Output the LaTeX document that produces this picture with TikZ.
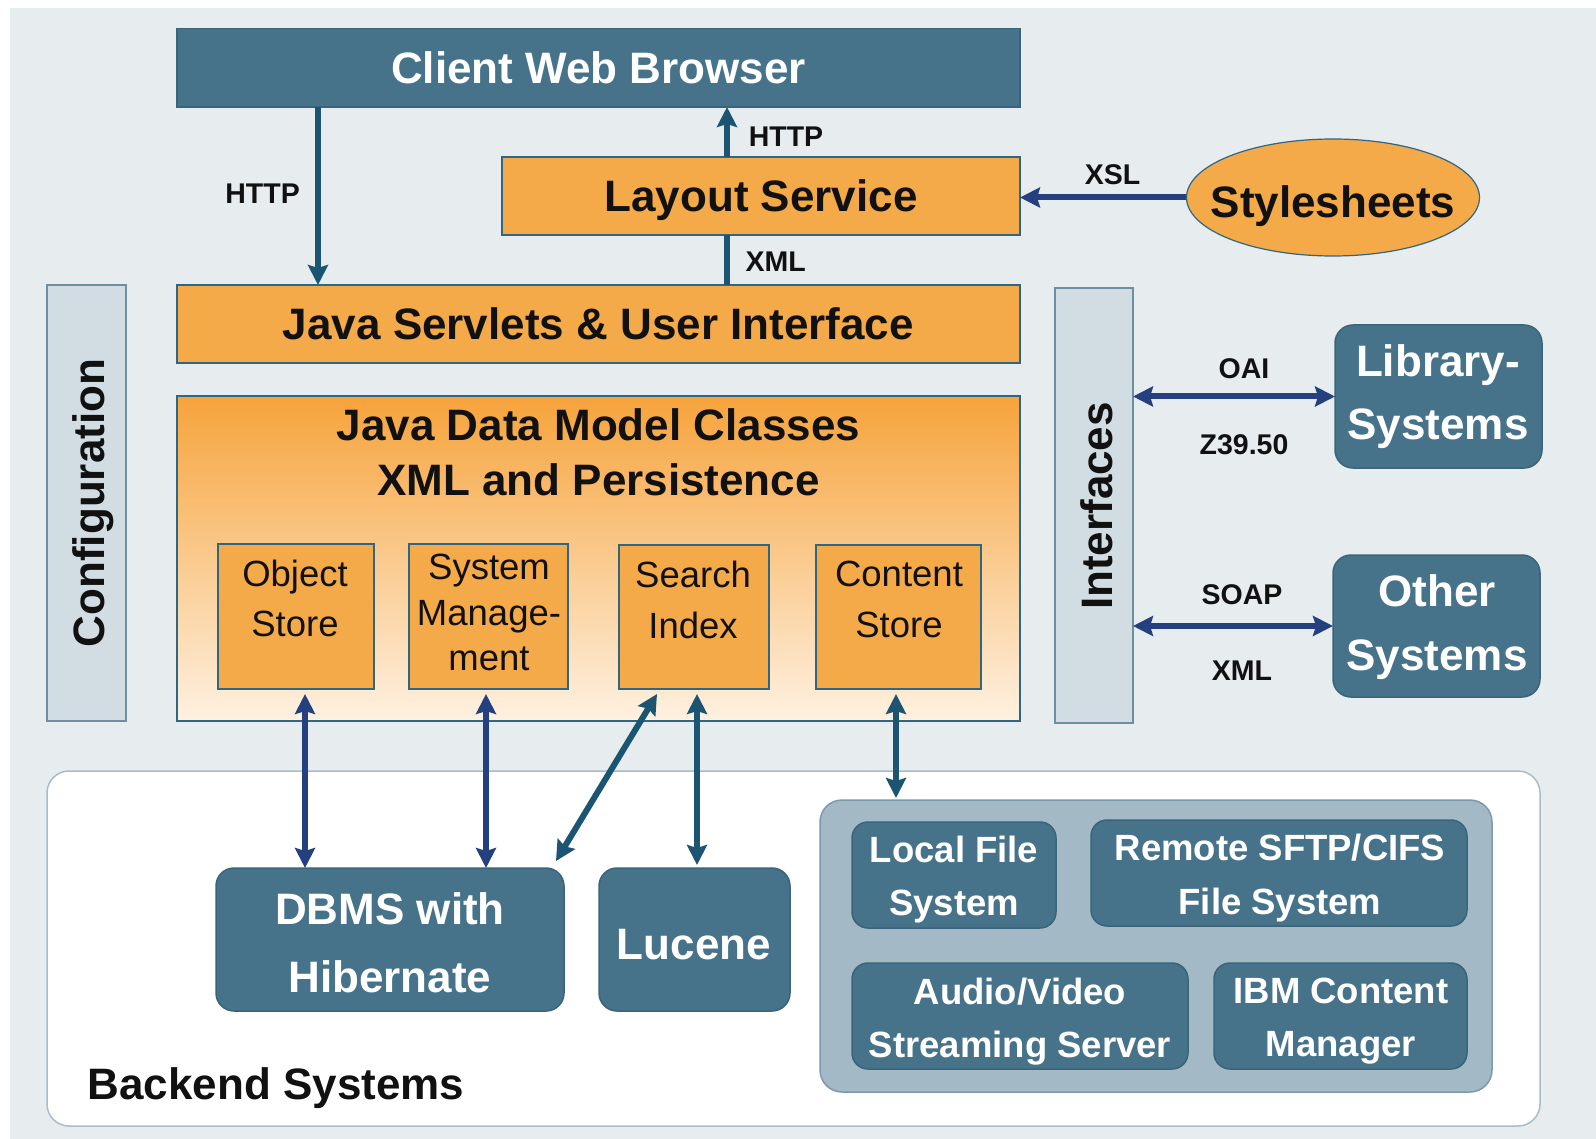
\documentclass[tikz,border=0pt]{standalone}
\usepackage{fontspec}
\setmainfont{Liberation Sans}
\usetikzlibrary{arrows.meta,shapes.geometric}
\definecolor{bg}{HTML}{E7ECEF}
\definecolor{steel}{HTML}{46738A}
\definecolor{steelb}{HTML}{3A6479}
\definecolor{org}{HTML}{F5AA4A}
\definecolor{orgb}{HTML}{2F6683}
\definecolor{cfg}{HTML}{D1DCE3}
\definecolor{cfgb}{HTML}{6C8FA1}
\definecolor{tealc}{HTML}{1B5572}
\definecolor{navy}{HTML}{24407E}
\definecolor{grp}{HTML}{A3B9C5}
\definecolor{grpb}{HTML}{7C9AAA}
\definecolor{bkb}{HTML}{A9BDC8}
\definecolor{gtop}{HTML}{F6A33B}
\definecolor{gbot}{HTML}{FEF1E1}
\definecolor{ink}{HTML}{111111}
\tikzset{
  box/.style={draw, inner sep=0pt, outer sep=0pt},
  capfix/.style={text height=31.5pt, text depth=0pt},
  steelbox/.style={box, fill=steel, draw=steelb, line width=1.5pt, text=white, font=\fontsize{44}{44}\selectfont\bfseries, capfix},
  rsteel/.style={steelbox, rounded corners=18pt},
  orgbox/.style={box, fill=org, draw=orgb, line width=1.2pt, text=ink, font=\fontsize{44}{44}\selectfont\bfseries, capfix},
  sidebox/.style={box, fill=cfg, draw=cfgb, line width=1.5pt},
  big/.style={font=\fontsize{44}{44}\selectfont\bfseries, inner sep=0pt},
  lbl/.style={font=\fontsize{28.5}{28.5}\selectfont\bfseries, text=ink, inner sep=0pt},
  tarr/.style={draw=tealc, line width=6pt, -{Stealth[length=20pt,width=20pt,inset=3pt]}},
  tdarr/.style={draw=tealc, line width=6pt, {Stealth[length=20pt,width=20pt,inset=3pt]}-{Stealth[length=20pt,width=20pt,inset=3pt]}},
  ndarr/.style={draw=navy, line width=6pt, {Stealth[length=20pt,width=20pt,inset=3pt]}-{Stealth[length=20pt,width=20pt,inset=3pt]}},
  narr/.style={draw=navy, line width=6pt, -{Stealth[length=20pt,width=20pt,inset=3pt]}},
  tline/.style={draw=tealc, line width=6pt},
}
\begin{document}
\begin{tikzpicture}[x=1pt,y=-1pt]
\useasboundingbox (0,0) rectangle (1596,1139);
\fill[bg] (10,8) rectangle (1596,1139);

% top
\node[steelbox, minimum width=843pt, minimum height=78.5pt] (cwb) at (598.5,67.75) {Client Web Browser};
\node[orgbox, minimum width=518pt, minimum height=78pt] (ls) at (761,196) {Layout Service};
\node[orgbox, minimum width=843pt, minimum height=78pt] (jsui) at (598.5,324) {Java Servlets \& User Interface};
\node[ellipse, draw=orgb, line width=1.2pt, fill=org, minimum width=293pt, minimum height=117pt, inner sep=0pt] (ss) at (1333,197.5) {};
\node[big, capfix, text=ink] (sst) at (1333,202) {Stylesheets};

% data model
\node[box, draw=orgb, line width=1.2pt, top color=gtop, bottom color=gbot, minimum width=843pt, minimum height=325pt] (jdm) at (598.5,558.5) {};
\node[big, text=ink, align=center, font=\fontsize{44}{55.5}\selectfont\bfseries] (jdmt) at (598.5,452.5) {Java Data Model Classes\\XML and Persistence};

\node[orgbox, minimum width=156pt, minimum height=145pt] (os) at (296,616.5) {};
\node[orgbox, minimum width=159pt, minimum height=145pt] (sm) at (488.5,616.5) {};
\node[orgbox, minimum width=150pt, minimum height=144pt] (si) at (694,617) {};
\node[orgbox, minimum width=165pt, minimum height=144pt] (cs) at (898.5,617) {};
\node[inner sep=0pt, align=center, text=ink, font=\fontsize{36.5}{50}\selectfont] (ost) at (295,598) {Object\\Store};
\node[inner sep=0pt, align=center, text=ink, font=\fontsize{36.5}{45.5}\selectfont] (smt) at (489,612.5) {System\\Manage-\\ment};
\node[inner sep=0pt, align=center, text=ink, font=\fontsize{36.5}{51}\selectfont] (sit) at (693,599.5) {Search\\Index};
\node[inner sep=0pt, align=center, text=ink, font=\fontsize{36.5}{51}\selectfont] (cst) at (899,599.5) {Content\\Store};

% side bars
\node[sidebox, minimum width=79pt, minimum height=436pt] (cfgbox) at (86.5,503) {};
\node[big, rotate=90, text=ink] (cfgt) at (93.5,503) {Configuration};
\node[sidebox, minimum width=78pt, minimum height=435pt] (ifc) at (1094,505.5) {};
\node[big, rotate=90, text=ink] (ifct) at (1097,506) {Interfaces};

% external systems
\node[rsteel, minimum width=207pt, minimum height=143pt] (lib) at (1438.5,396.5) {};
\node[big, text=white, align=center, font=\fontsize{44}{63}\selectfont\bfseries] (libt) at (1438,396.5) {Library-\\Systems};
\node[rsteel, minimum width=207pt, minimum height=142pt] (oth) at (1436.5,626) {};
\node[big, text=white, align=center, font=\fontsize{44}{64}\selectfont\bfseries] (otht) at (1437,627) {Other\\Systems};

% backend
\node[box, fill=white, draw=bkb, line width=1.5pt, rounded corners=22pt, minimum width=1493pt, minimum height=355pt] (bk) at (793.5,948.5) {};
\node[big, text=ink, anchor=west] (bkt) at (87.5,1088) {Backend Systems};
\node[rsteel, minimum width=348pt, minimum height=143pt] (dbms) at (390,939.5) {};
\node[big, text=white, align=center, font=\fontsize{44}{68}\selectfont\bfseries] (dbmst) at (390,943) {DBMS with\\Hibernate};
\node[rsteel, minimum width=191pt, minimum height=143pt] (luc) at (694.5,939.5) {};
\node[big, capfix, text=white] (luct) at (694,944) {Lucene};
\node[box, fill=grp, draw=grpb, line width=1.5pt, rounded corners=22pt, minimum width=672pt, minimum height=292pt] (grpn) at (1156,946) {};
\node[rsteel, rounded corners=16pt, minimum width=204pt, minimum height=106pt] (lfs) at (954,875) {};
\node[rsteel, rounded corners=16pt, minimum width=376pt, minimum height=106pt] (rfs) at (1279,873) {};
\node[rsteel, rounded corners=16pt, minimum width=336pt, minimum height=106pt] (avs) at (1020,1016) {};
\node[rsteel, rounded corners=16pt, minimum width=253pt, minimum height=106pt] (ibm) at (1340.5,1016) {};
\node[inner sep=0pt, align=center, text=white, font=\fontsize{36.5}{53}\selectfont\bfseries] (lfst) at (954,879.5) {Local File\\System};
\node[inner sep=0pt, align=center, text=white, font=\fontsize{36.5}{54}\selectfont\bfseries] (rfst) at (1280,878) {Remote SFTP/CIFS\\File System};
\node[inner sep=0pt, align=center, text=white, font=\fontsize{36.5}{53}\selectfont\bfseries] (avst) at (1020,1021.5) {Audio/Video\\Streaming Server};
\node[inner sep=0pt, align=center, text=white, font=\fontsize{36.5}{53}\selectfont\bfseries] (ibmt) at (1341,1021.5) {IBM Content\\Manager};

% connectors
\coordinate (xh1) at (318,0);
\coordinate (xh2) at (727,0);
\coordinate (xa) at (305,0);
\coordinate (xb) at (486,0);
\coordinate (xc) at (697,0);
\coordinate (xd) at (896,0);
\draw[tarr] (cwb.south -| xh1) -- (jsui.north -| xh1);
\draw[tarr] (ls.north -| xh2) -- (cwb.south -| xh2);
\draw[tline] (jsui.north -| xh2) -- (ls.south -| xh2);
\draw[narr] (ss.west) -- (ss.west -| ls.east);
\draw[ndarr] (ifc.east |- lib.west) -- (lib.west);
\draw[ndarr] (ifc.east |- oth.west) -- (oth.west);
\draw[ndarr, shorten <=5pt] (os.south -| xa) -- (dbms.north -| xa);
\draw[ndarr, shorten <=5pt] (sm.south -| xb) -- (dbms.north -| xb);
\draw[tdarr] ([xshift=-37pt,yshift=-5pt]si.south) -- ([xshift=-8pt,yshift=7pt]dbms.north east);
\draw[tdarr, shorten <=5pt, shorten >=3pt] (si.south -| xc) -- (luc.north -| xc);
\draw[tdarr, shorten <=5pt, shorten >=2pt] (cs.south -| xd) -- (grpn.north -| xd);

% labels
\node[lbl] (l1) at (262.6,193.4) {HTTP};
\node[lbl] (l2) at (786,136.4) {HTTP};
\node[lbl] (l3) at (775.6,261.6) {XML};
\node[lbl] (l4) at (1112.6,175) {XSL};
\node[lbl] (l5) at (1244,368.5) {OAI};
\node[lbl] (l6) at (1244,445) {Z39.50};
\node[lbl] (l7) at (1242,594.5) {SOAP};
\node[lbl] (l8) at (1242,671) {XML};
\end{tikzpicture}
\end{document}
